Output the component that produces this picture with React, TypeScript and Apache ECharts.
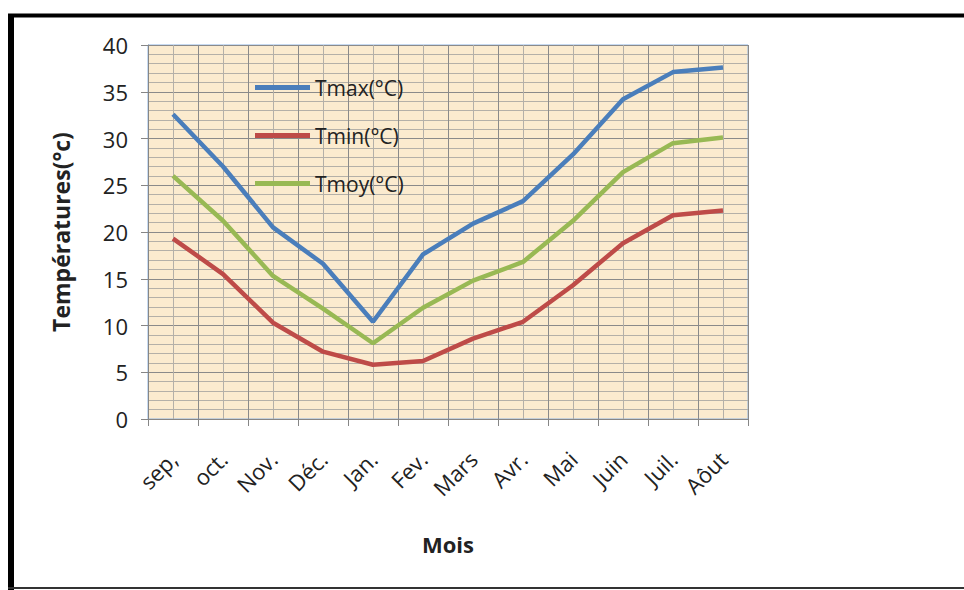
import React, { useEffect, useRef } from "react";
import * as echarts from "echarts";

const months = ["sep,", "oct.", "Nov.", "Déc.", "Jan.", "Fev.", "Mars", "Avr.", "Mai", "Juin", "Juil.", "Aôut"];
const tmax = [32.6, 27.0, 20.5, 16.6, 10.4, 17.6, 20.9, 23.3, 28.3, 34.2, 37.1, 37.6];
const tmin = [19.3, 15.5, 10.3, 7.2, 5.8, 6.2, 8.6, 10.4, 14.3, 18.8, 21.8, 22.3];
const tmoy = [26.0, 21.2, 15.3, 11.8, 8.1, 11.9, 14.8, 16.8, 21.2, 26.4, 29.5, 30.1];
const seriesNames = ["Tmax(°C)", "Tmin(°C)", "Tmoy(°C)"];
const colors = ["#4A7EBB", "#BE4B48", "#98B954"];

const FONT = "'Open Sans', sans-serif";

export default function App() {
  const ref = useRef<HTMLDivElement>(null);
  useEffect(() => {
    if (!ref.current) return;
    const chart = echarts.init(ref.current, null, { renderer: "svg" });
    const datasets = [tmax, tmin, tmoy];
    chart.setOption({
      animation: false,
      backgroundColor: "#ffffff",
      textStyle: { fontFamily: FONT },
      grid: {
        left: 148,
        top: 45,
        width: 600,
        height: 374,
        show: true,
        backgroundColor: "#FBEBCF",
        borderColor: "#8EB4E3",
        borderWidth: 1,
      },
      legend: {
        orient: "vertical",
        left: 250,
        top: 72,
        icon: "rect",
        itemWidth: 55,
        itemHeight: 5,
        itemGap: 27,
        data: seriesNames,
        textStyle: { fontFamily: FONT, fontSize: 21, color: "#222", lineHeight: 21 },
      },
      xAxis: [
        {
          type: "category",
          data: months,
          boundaryGap: true,
          name: "Mois",
          nameLocation: "middle",
          nameGap: 114,
          nameTextStyle: { fontFamily: FONT, fontSize: 22, fontWeight: "bold", color: "#222" },
          axisLine: { show: true, lineStyle: { color: "#868686", width: 1 } },
          axisTick: { show: true, length: 7, lineStyle: { color: "#868686" } },
          axisLabel: { rotate: 45, margin: 36, fontFamily: FONT, fontSize: 22, color: "#222" },
          splitLine: { show: false },
          z: 5,
        },
        {
          type: "value",
          min: 0,
          max: 12,
          interval: 1,
          position: "top",
          axisLine: { show: false },
          axisTick: { show: false },
          axisLabel: { show: false },
          minorTick: { show: false, splitNumber: 2 },
          splitLine: { show: true, lineStyle: { color: "#8a8a8a", width: 1 } },
          minorSplitLine: { show: true, lineStyle: { color: "#b4b0a8", width: 1 } },
        },
      ],
      yAxis: {
        type: "value",
        min: 0,
        max: 40,
        interval: 5,
        name: "Températures(°c)",
        nameLocation: "middle",
        nameGap: 76,
        nameTextStyle: { fontFamily: FONT, fontSize: 23, fontWeight: "bold", color: "#222" },
        axisLine: { show: true, lineStyle: { color: "#868686", width: 1 } },
        axisTick: { show: true, length: 7, lineStyle: { color: "#868686" } },
        axisLabel: { margin: 20, fontFamily: FONT, fontSize: 22, color: "#222" },
        minorTick: { show: false, splitNumber: 5 },
        splitLine: { show: true, lineStyle: { color: "#8a8a8a", width: 1 } },
        minorSplitLine: { show: true, lineStyle: { color: "#b4b0a8", width: 1 } },
      },
      series: seriesNames.map((name, i) => ({
        name,
        type: "line",
        xAxisIndex: 0,
        data: datasets[i],
        symbol: "none",
        lineStyle: { color: colors[i], width: 4.5 },
        itemStyle: { color: colors[i] },
        z: 10,
      })),
      graphic: [
        { type: "line", shape: { x1: 11, y1: 14, x2: 11, y2: 590 }, style: { stroke: "#000", lineWidth: 6 } },
        { type: "line", shape: { x1: 8, y1: 15.5, x2: 964, y2: 15.5 }, style: { stroke: "#000", lineWidth: 4 } },
        { type: "line", shape: { x1: 8, y1: 588, x2: 964, y2: 588 }, style: { stroke: "#333", lineWidth: 2 } },
      ],
    });
    return () => chart.dispose();
  }, []);
  return (
    <div
      ref={ref}
      style={{ position: "fixed", left: 0, top: 0, width: 964, height: 590 }}
    />
  );
}
